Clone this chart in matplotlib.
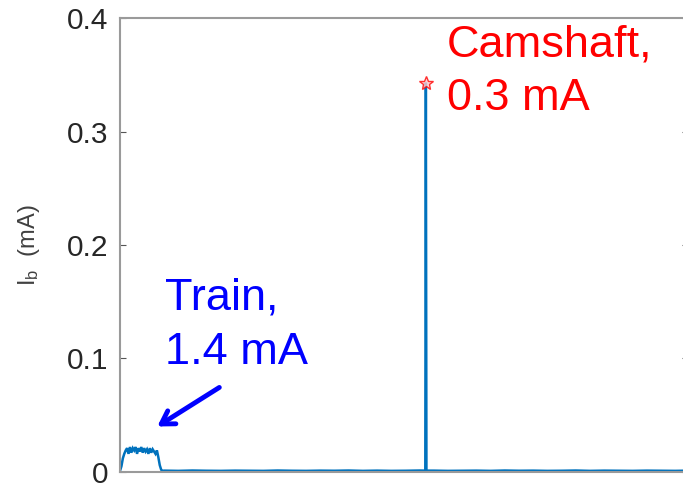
import numpy as np
import matplotlib
matplotlib.use("Agg")
import matplotlib.pyplot as plt

plt.rcParams['font.family'] = ['Liberation Sans', 'DejaVu Sans']
plt.rcParams['mathtext.fontset'] = 'custom'
plt.rcParams['mathtext.rm'] = 'Liberation Sans'

# bunch train: sampled every 5 ns from t = 0
train_dt = 0.005
train_ib = [0.001, 0.005, 0.012, 0.016, 0.019, 0.021, 0.016, 0.022, 0.017, 0.021,
            0.019, 0.022, 0.016, 0.021, 0.018, 0.022, 0.017, 0.021, 0.018, 0.020,
            0.016, 0.021, 0.017, 0.020, 0.018, 0.016, 0.019, 0.013, 0.006, 0.002,
            0.001]

# quiet baseline after the train, every 50 ns
base_t0 = 0.155
base_dt = 0.05
base_ib = [0.0012, 0.0010, 0.0013, 0.0011, 0.0010, 0.0012, 0.0011, 0.0010, 0.0013, 0.0011,
           0.0010, 0.0012, 0.0011, 0.0013, 0.0010, 0.0012, 0.0010, 0.0011, 0.0013, 0.0012,
           0.0010, 0.0011, 0.0012, 0.0010, 0.0013, 0.0011, 0.0012, 0.0010, 0.0011, 0.0013,
           0.0010, 0.0012, 0.0011, 0.0010, 0.0012, 0.0011, 0.0010, 0.0012]

# camshaft bunch
cam_t = [1.075, 1.077, 1.079]
cam_ib = [0.0012, 0.343, 0.0012]

t = np.concatenate([np.arange(len(train_ib)) * train_dt,
                    base_t0 + np.arange(len(base_ib)) * base_dt,
                    cam_t])
ib = np.concatenate([train_ib, base_ib, cam_ib])
order = np.argsort(t, kind='stable')
t, ib = t[order], ib[order]

fig = plt.figure(figsize=(6.83, 4.88), dpi=100)
ax = fig.add_axes([0.1757, 0.0328, 0.8316, 0.9303])

ax.plot(t, ib, color='#0072BD', lw=1.8, solid_joinstyle='miter')
ax.plot(cam_t[1], cam_ib[1], marker='*', ms=10, mfc='#ffc8c8', mec='red',
        mew=1.0, alpha=0.8, ls='none')

ax.set_xlim(0, 2.0)
ax.set_ylim(0, 0.4)
ax.set_yticks([0, 0.1, 0.2, 0.3, 0.4])
ax.set_yticklabels(['0', '0.1', '0.2', '0.3', '0.4'])
ax.set_xticks([])

for s in ax.spines.values():
    s.set_color('#9a9a9a')
    s.set_linewidth(1.5)
ax.tick_params(axis='y', direction='in', length=4, width=0.8, color='#555555',
               right=True, labelsize=21.5, labelcolor='#262626', pad=8.6)

ax.set_ylabel(r'$\mathregular{I_b}$  (mA)', fontsize=17, color='#404040')
ax.yaxis.set_label_coords(-0.138, 0.5)

ax.text(1.151, 0.3946, 'Camshaft,\n0.3 mA', color='red', fontsize=32.5,
        va='top', ha='left', linespacing=1.4)
ax.text(0.158, 0.171, 'Train,\n1.4 mA', color='blue', fontsize=32.5,
        va='top', ha='left', linespacing=1.4)
ax.annotate('', xy=(0.123, 0.0388), xytext=(0.358, 0.0758),
            arrowprops=dict(arrowstyle='->,head_length=0.9,head_width=0.55',
                            color='blue', lw=3.5))

fig.savefig('out.png', dpi=100)
